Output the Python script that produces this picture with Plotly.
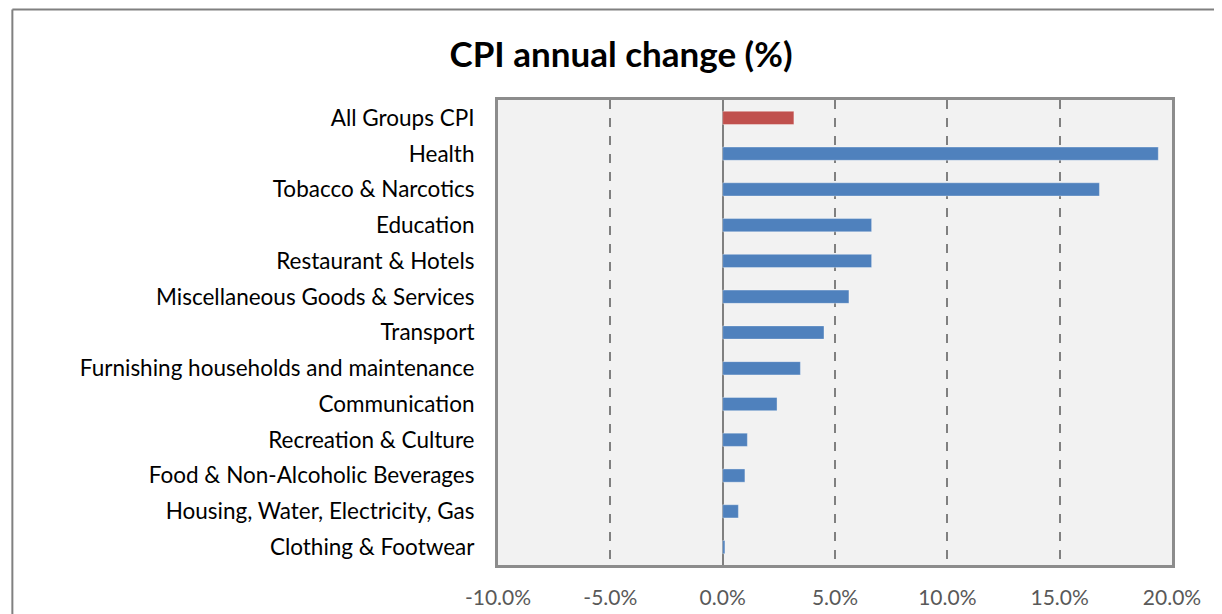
import plotly.graph_objects as go

categories = [
    "All Groups CPI",
    "Health",
    "Tobacco & Narcotics",
    "Education",
    "Restaurant & Hotels",
    "Miscellaneous Goods & Services",
    "Transport",
    "Furnishing households and maintenance",
    "Communication",
    "Recreation & Culture",
    "Food & Non-Alcoholic Beverages",
    "Housing, Water, Electricity, Gas",
    "Clothing & Footwear",
]
values = [3.17, 19.39, 16.77, 6.63, 6.63, 5.62, 4.51, 3.46, 2.42, 1.10, 0.99, 0.70, 0.10]
bar_colors = ["#c0504d"] + ["#4f81bd"] * 12
tick_vals = [-10, -5, 0, 5, 10, 15, 20]
tick_text = ["-10.0%", "-5.0%", "0.0%", "5.0%", "10.0%", "15.0%", "20.0%"]

FONT = "Lato"
OFF = 8  # page body margin

fig = go.Figure(go.Bar(
    x=values,
    y=categories,
    orientation="h",
    marker=dict(color=bar_colors, line=dict(color="rgba(255,255,255,0.35)", width=1)),
    width=0.37,
))

W, H = 1222 - OFF, 614 - OFF
L, T = 497.5 - OFF, 100 - OFF
R = W - (1172 - OFF)
B = H - (565.5 - OFF)
pw, ph = W - L - R, H - T - B

def px(x):
    return (x - OFF - L) / pw

def py(y):
    return (H - B - (y - OFF)) / ph

fig.update_layout(
    width=W, height=H,
    margin=dict(l=L, r=R, t=T, b=B, pad=0),
    paper_bgcolor="white",
    plot_bgcolor="#f2f2f2",
    showlegend=False,
    title=dict(text="<b>CPI annual change (%)</b>", x=(621 - OFF) / W, xanchor="center",
               y=1 - (55 - OFF) / H, yanchor="middle",
               font=dict(family=FONT, size=35, color="black")),
    font=dict(family=FONT, size=22, color="black"),
    xaxis=dict(
        range=[-10, 20], tickvals=tick_vals, ticktext=tick_text,
        automargin=False,
        showgrid=True, gridcolor="#808080", gridwidth=2, griddash="dash",
        zeroline=True, zerolinecolor="#808080", zerolinewidth=2,
        showline=True, linecolor="#8c8c8c", linewidth=3, mirror=True,
        ticks="", ticklabelstandoff=12,
        tickfont=dict(family=FONT, size=21, color="#595959"),
    ),
    yaxis=dict(
        autorange="reversed",
        automargin=False,
        showgrid=False, showline=True, linecolor="#8c8c8c", linewidth=3, mirror=True,
        ticks="", ticklabelstandoff=16,
        tickfont=dict(family=FONT, size=22.5, color="black"),
    ),
    shapes=[
        dict(type="line", xref="paper", yref="paper",
             x0=px(11.5), x1=px(1240), y0=py(9.5), y1=py(9.5),
             line=dict(color="#808080", width=2)),
        dict(type="line", xref="paper", yref="paper",
             x0=px(11.5), x1=px(11.5), y0=py(9.5), y1=py(640),
             line=dict(color="#808080", width=2)),
    ],
)

fig.write_html("out.html")
